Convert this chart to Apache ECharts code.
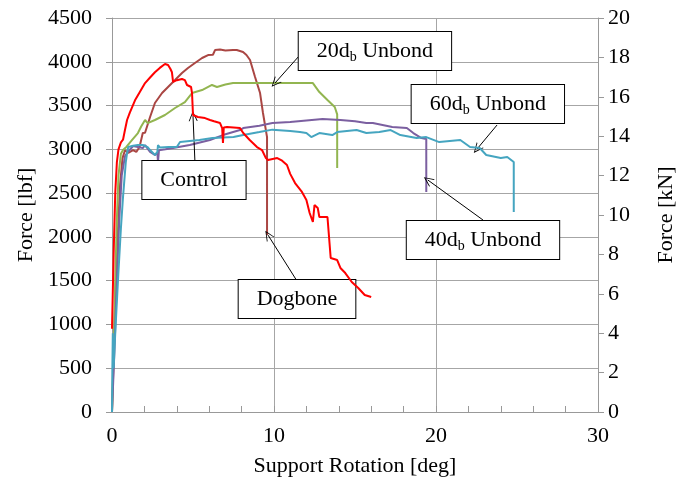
<!DOCTYPE html>
<html><head><meta charset="utf-8">
<script src="https://cdn.jsdelivr.net/npm/echarts@6/dist/echarts.min.js"></script>
<style>html,body{margin:0;padding:0;background:#fff}#c{width:676px;height:491px}</style>
</head><body><div id="c"></div>
<script>
const seriesNames = ['Dogbone', '20db Unbond', '40db Unbond', '60db Unbond', 'Control'];
const seriesColors = ['#AA4643', '#92B550', '#7B5FA0', '#45A5C0', '#FF0000'];

const dogbone = [[0,0],[0.1,600],[0.2,1300],[0.35,2000],[0.5,2600],[0.65,2900],[0.8,2990],[1.0,2960],[1.1,2958],[1.3,2992],[1.5,2970],[1.7,3026],[1.9,3186],[2.04,3190],[2.35,3369],[2.65,3529],[3.09,3643],[3.46,3712],[3.89,3791],[4.32,3871],[4.69,3929],[5.12,3986],[5.56,4043],[5.93,4077],[6.23,4080],[6.36,4134],[6.67,4140],[7.0,4130],[7.47,4134],[7.7,4134],[8.09,4111],[8.3,4077],[8.52,4020],[8.83,3826],[9.14,3643],[9.32,3415],[9.57,3140],[9.57,2021]];
const unbond20 = [[0,0],[0.1,700],[0.2,1500],[0.3,2200],[0.4,2700],[0.55,2950],[0.68,2992],[0.9,3030],[1.23,3106],[1.6,3186],[1.8,3260],[2.04,3335],[2.2,3300],[2.65,3335],[3.27,3392],[3.89,3472],[4.5,3540],[4.94,3643],[5.56,3677],[6.17,3735],[6.48,3712],[7.0,3740],[7.47,3757],[8.5,3757],[10.2,3757],[11.6,3757],[12.4,3757],[12.8,3654],[13.3,3563],[13.75,3483],[13.9,3400],[13.9,2787]];
const unbond40 = [[0,0],[0.15,700],[0.3,1500],[0.45,2200],[0.6,2700],[0.8,2920],[0.93,2958],[1.3,3038],[1.42,3026],[1.9,3015],[2.04,3049],[2.35,2970],[2.65,2935],[2.8,2960],[2.84,2855],[2.9,2990],[3.3,3000],[3.77,3015],[4.8,3049],[6.05,3106],[6.85,3163],[7.9,3220],[8.1,3243],[9.1,3270],[9.9,3300],[11.0,3312],[12.0,3330],[13.0,3346],[14.1,3335],[15.0,3320],[15.7,3300],[16.1,3300],[17.3,3255],[18.2,3243],[18.6,3186],[19.1,3129],[19.4,3118],[19.4,2512]];
const unbond60 = [[0,0],[0.02,450],[0.05,900],[0.1,500],[0.2,900],[0.37,1507],[0.55,2100],[0.68,2455],[0.85,2850],[0.93,2958],[1.0,3026],[1.3,3040],[1.6,3049],[1.9,3049],[2.2,3026],[2.35,2992],[2.65,2935],[2.8,2970],[2.84,3049],[2.96,3020],[3.5,3026],[4.0,3026],[4.2,3083],[5.4,3106],[6.2,3129],[7.5,3140],[8.1,3163],[9.1,3197],[9.9,3225],[11.0,3210],[11.6,3197],[12.0,3186],[12.3,3140],[12.8,3186],[13.6,3163],[13.9,3197],[15.1,3220],[15.7,3186],[16.5,3197],[17.2,3220],[17.8,3163],[18.8,3129],[19.4,3140],[20.2,3083],[21.5,3106],[22.1,3026],[22.7,3015],[23.1,2935],[24.0,2900],[24.4,2912],[24.8,2855],[24.8,2284]];
const control = [[0,950],[0.1,1800],[0.2,2500],[0.3,2850],[0.4,3000],[0.55,3080],[0.68,3110],[0.8,3220],[0.93,3335],[1.1,3420],[1.42,3560],[1.7,3650],[2.04,3757],[2.35,3820],[2.65,3880],[2.95,3930],[3.27,3975],[3.46,3963],[3.6,3920],[3.7,3880],[3.77,3770],[4.0,3790],[4.32,3803],[4.5,3790],[4.63,3735],[4.88,3712],[4.94,3643],[5.0,3392],[5.3,3369],[5.74,3357],[6.05,3335],[6.3,3320],[6.67,3300],[6.8,3243],[6.85,3072],[6.9,3250],[7.1,3255],[7.9,3243],[8.1,3186],[8.5,3106],[8.95,3026],[9.26,2992],[9.5,2900],[9.63,2878],[10.2,2900],[10.5,2870],[10.8,2821],[11.0,2720],[11.3,2615],[11.7,2520],[12.0,2421],[12.2,2273],[12.4,2170],[12.5,2364],[12.7,2330],[12.8,2227],[13.3,2227],[13.5,1759],[13.9,1736],[14.1,1645],[14.4,1587],[14.8,1485],[15.2,1416],[15.6,1336],[16.0,1313]];
const seriesData = [dogbone, unbond20, unbond40, unbond60, control];

const xTicks = [0, 10, 20, 30];
const yLeftTicks = [0, 4500, 500];
const yRightTicks = [0, 20, 2];

// annotation labels: [label text (rich), x, y]
const annoLabels = [
  ['{a|20d}{s|b}{a| Unbond}', 16.23, 4123],
  ['{a|60d}{s|b}{a| Unbond}', 23.2, 3517],
  ['{a|40d}{s|b}{a| Unbond}', 22.9, 1964],
  ['{a|Control}', 5.06, 2649],
  ['{a|Dogbone}', 11.42, 1290]
];
// arrows: [fromX, fromY, toX, toY]
const annoArrows = [
  [11.6, 4077, 10.06, 3757],
  [23.77, 3278, 22.53, 3003],
  [22.9, 2193, 19.5, 2649],
  [5.12, 2855, 5.0, 3380],
  [11.42, 1496, 9.63, 2021]
];

const FONT = "'Liberation Serif', 'Times New Roman', serif";
const chart = echarts.init(document.getElementById('c'));
const series = seriesNames.map((n, i) => ({
  name: n, type: 'line', data: seriesData[i], showSymbol: false, symbol: 'none',
  lineStyle: { color: seriesColors[i], width: 2 }, itemStyle: { color: seriesColors[i] },
  yAxisIndex: 0, animation: false, z: 2 + i
}));
series.push({
  name: 'anno', type: 'line', data: [], yAxisIndex: 0, z: 20, silent: true, animation: false,
  markLine: {
    silent: true, animation: false, symbol: ['none', 'path://M0,10L5,0L10,10L9,10L5,2L1,10Z'], symbolSize: [9, 10],
    lineStyle: { color: '#000', width: 1, type: 'solid' }, label: { show: false },
    data: annoArrows.map(a => [{ coord: [a[0], a[1]] }, { coord: [a[2], a[3]] }])
  },
  markPoint: {
    silent: true, animation: false, symbol: 'rect', symbolSize: 0,
    label: {
      show: true, position: 'inside', backgroundColor: '#fff', borderColor: '#000', borderWidth: 1,
      padding: [6, 18, 6, 18],
      rich: {
        a: { fontFamily: FONT, fontSize: 22, color: '#000', lineHeight: 26 },
        s: { fontFamily: FONT, fontSize: 14, color: '#000', lineHeight: 26, padding: [12, 0, 0, 0] }
      }
    },
    data: annoLabels.map(l => ({ coord: [l[1], l[2]], label: { formatter: l[0] } }))
  }
});

chart.setOption({
  animation: false,
  backgroundColor: '#fff',
  grid: { left: 112, right: 78, top: 18, bottom: 79, containLabel: false, outerBoundsMode: 'none' },
  xAxis: {
    type: 'value', min: xTicks[0], max: xTicks[xTicks.length - 1], interval: xTicks[1] - xTicks[0],
    name: 'Support Rotation [deg]', nameLocation: 'middle', nameGap: 43,
    nameTextStyle: { fontFamily: FONT, fontSize: 22, color: '#000' },
    axisLine: { lineStyle: { color: '#999', width: 1 } },
    axisTick: { show: true, inside: true, length: 6, lineStyle: { color: '#999' } },
    minorTick: { show: true, splitNumber: 5, length: 6, lineStyle: { color: '#999' } },
    axisLabel: { fontFamily: FONT, fontSize: 22, color: '#000', margin: 13 },
    splitLine: { show: true, lineStyle: { color: '#A6A6A6', width: 1 } }
  },
  yAxis: [{
    type: 'value', min: yLeftTicks[0], max: yLeftTicks[1], interval: yLeftTicks[2],
    name: 'Force [lbf]', nameLocation: 'middle', nameGap: 72, nameRotate: 90,
    nameTextStyle: { fontFamily: FONT, fontSize: 22, color: '#000' },
    axisLine: { show: true, lineStyle: { color: '#999' } },
    axisTick: { show: true, length: 6, lineStyle: { color: '#999' } },
    axisLabel: { fontFamily: FONT, fontSize: 22, color: '#000', margin: 20, formatter: v => String(v) },
    splitLine: { show: true, lineStyle: { color: '#A6A6A6', width: 1 } }
  }, {
    type: 'value', min: yRightTicks[0], max: yRightTicks[1], interval: yRightTicks[2], position: 'right',
    name: 'Force [kN]', nameLocation: 'middle', nameGap: 57, nameRotate: 90,
    nameTextStyle: { fontFamily: FONT, fontSize: 22, color: '#000' },
    axisLine: { show: true, lineStyle: { color: '#999' } },
    axisTick: { show: true, length: 6, lineStyle: { color: '#999' } },
    axisLabel: { fontFamily: FONT, fontSize: 22, color: '#000', margin: 10, formatter: v => String(v) },
    splitLine: { show: false }
  }],
  series: series
});
</script></body></html>
